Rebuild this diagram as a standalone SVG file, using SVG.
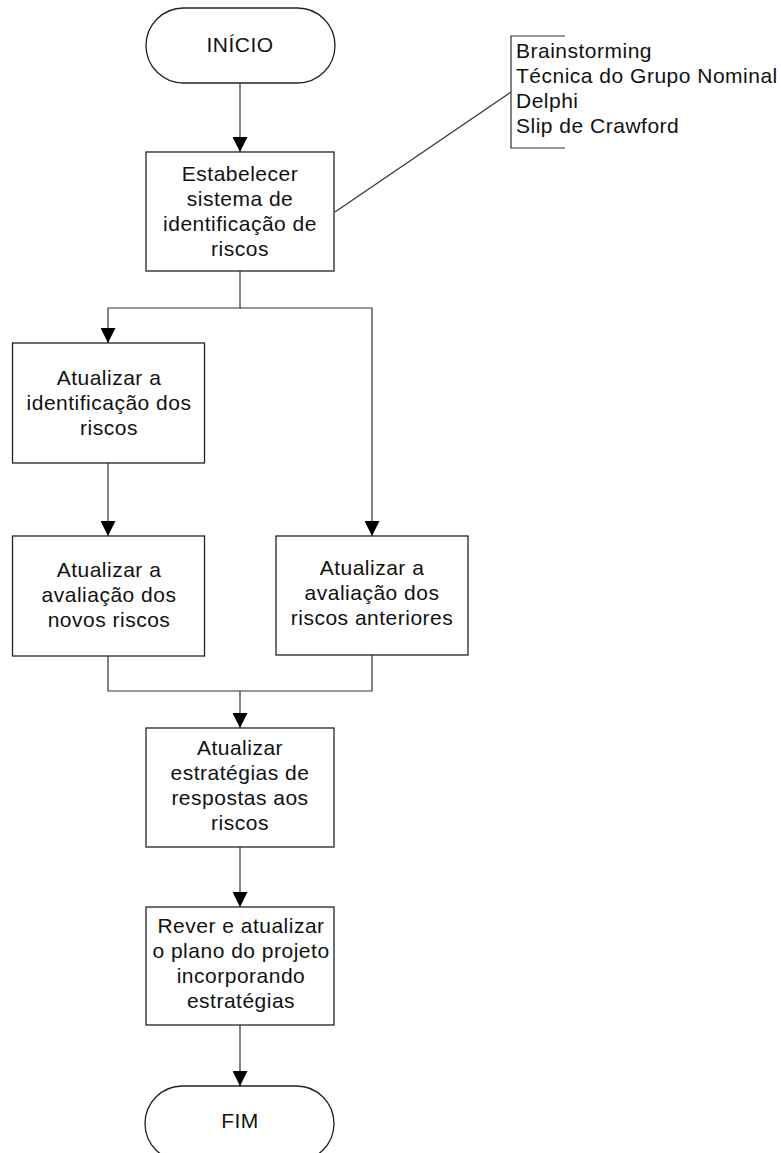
<svg xmlns="http://www.w3.org/2000/svg" width="781" height="1153" viewBox="0 0 781 1153">
<defs>
<style>
.shape{fill:#fff;stroke:#222;stroke-width:1.3}
.line{fill:none;stroke:#333;stroke-width:1.2}
text{font-family:"Liberation Sans",Arial,sans-serif;font-size:21px;fill:#111;letter-spacing:0.5px}
.c{text-anchor:middle}
</style>
<marker id="arr" viewBox="0 0 15 15" markerWidth="15" markerHeight="15" refX="15" refY="7.5" orient="auto" markerUnits="userSpaceOnUse">
<path d="M0,0 L15,7.5 L0,15 Z" fill="#000"/>
</marker>
</defs>
<rect width="781" height="1153" fill="#fff"/>
<g id="connectors">
<line class="line" x1="240" y1="83" x2="240" y2="152" marker-end="url(#arr)"/>
<polyline class="line" points="240,271 240,308 108,308 108,343" marker-end="url(#arr)"/>
<polyline class="line" points="240,308 372,308 372,536" marker-end="url(#arr)"/>
<line class="line" x1="108" y1="463" x2="108" y2="536" marker-end="url(#arr)"/>
<polyline class="line" points="108,656 108,691 372,691 372,655"/>
<line class="line" x1="240" y1="691" x2="240" y2="728" marker-end="url(#arr)"/>
<line class="line" x1="240" y1="847" x2="240" y2="907" marker-end="url(#arr)"/>
<line class="line" x1="240" y1="1025" x2="240" y2="1086" marker-end="url(#arr)"/>
<line class="line" x1="335" y1="212" x2="511" y2="92"/>
</g>
<g id="inicio">
<rect class="shape" x="146" y="8" width="189" height="75" rx="37.5" ry="37.5"/>
<text class="c" x="240" y="52">INÍCIO</text>
</g>
<g id="estabelecer">
<rect class="shape" x="146" y="152" width="188" height="119"/>
<text class="c" x="240" y="181">Estabelecer</text>
<text class="c" x="240" y="206">sistema de</text>
<text class="c" x="240" y="231">identificação de</text>
<text class="c" x="240" y="256">riscos</text>
</g>
<g id="anotacao">
<polyline class="line" points="565,36 511,36 511,148 565,148"/>
<text x="516" y="58">Brainstorming</text>
<text x="516" y="83">Técnica do Grupo Nominal</text>
<text x="516" y="108">Delphi</text>
<text x="516" y="133">Slip de Crawford</text>
</g>
<g id="identificacao">
<rect class="shape" x="12.5" y="343" width="192" height="120"/>
<text class="c" x="109" y="385">Atualizar a</text>
<text class="c" x="109" y="410">identificação dos</text>
<text class="c" x="109" y="435">riscos</text>
</g>
<g id="novos">
<rect class="shape" x="12.5" y="536" width="192" height="120"/>
<text class="c" x="109" y="577">Atualizar a</text>
<text class="c" x="109" y="602">avaliação dos</text>
<text class="c" x="109" y="627">novos riscos</text>
</g>
<g id="anteriores">
<rect class="shape" x="276" y="536" width="192" height="119"/>
<text class="c" x="372" y="575">Atualizar a</text>
<text class="c" x="372" y="600">avaliação dos</text>
<text class="c" x="372" y="625">riscos anteriores</text>
</g>
<g id="estrategias">
<rect class="shape" x="146" y="728" width="188" height="119"/>
<text class="c" x="240" y="755">Atualizar</text>
<text class="c" x="240" y="780">estratégias de</text>
<text class="c" x="240" y="805">respostas aos</text>
<text class="c" x="240" y="830">riscos</text>
</g>
<g id="rever">
<rect class="shape" x="146" y="907" width="188" height="118"/>
<text class="c" x="241" y="933">Rever e atualizar</text>
<text class="c" x="241" y="958">o plano do projeto</text>
<text class="c" x="241" y="983">incorporando</text>
<text class="c" x="241" y="1008">estratégias</text>
</g>
<g id="fim">
<rect class="shape" x="145" y="1086" width="189" height="75" rx="37.5" ry="37.5"/>
<text class="c" x="240" y="1128">FIM</text>
</g>
</svg>
